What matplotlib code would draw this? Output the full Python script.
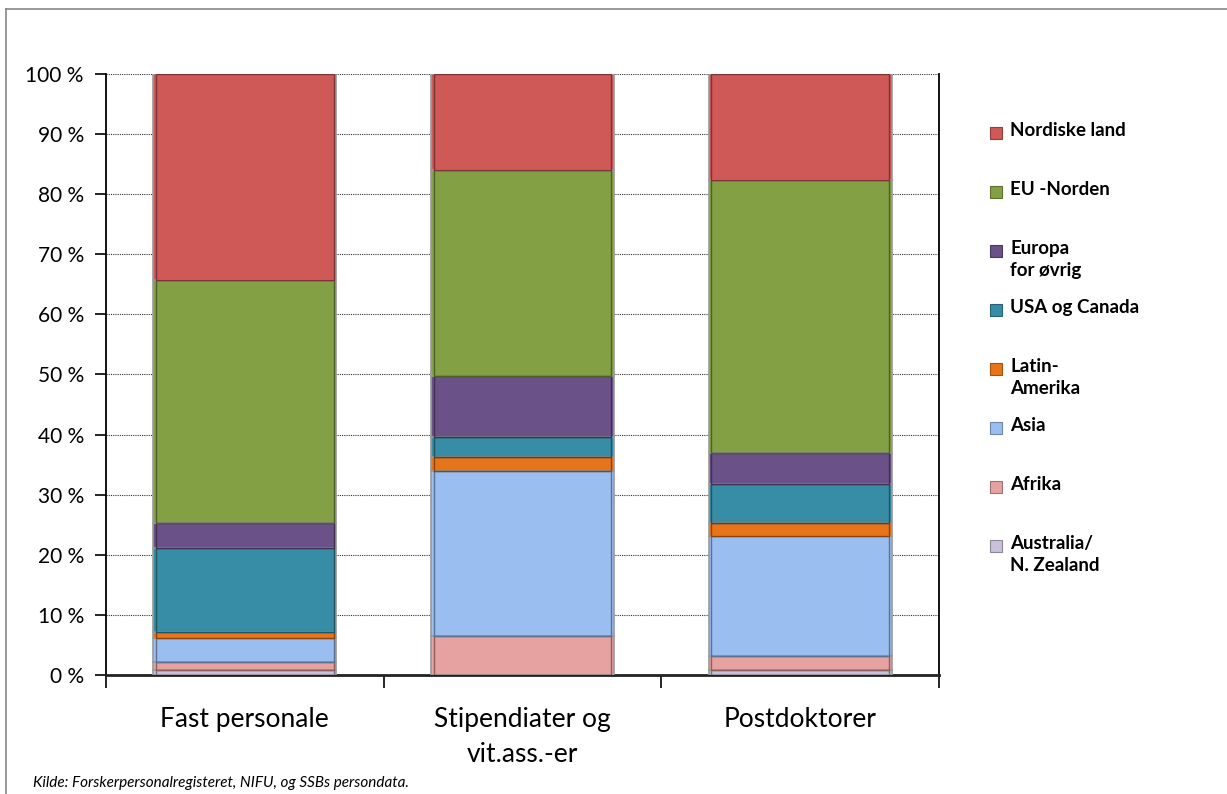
import matplotlib.pyplot as plt
import numpy as np
from matplotlib.colors import to_rgb
from matplotlib.lines import Line2D
from matplotlib.patches import Rectangle

categories = ['Fast personale', 'Stipendiater og\nvit.ass.-er', 'Postdoktorer']
series = ['Australia/\nN. Zealand', 'Afrika', 'Asia', 'Latin-\nAmerika',
          'USA og Canada', 'Europa\nfor øvrig', 'EU -Norden', 'Nordiske land']

# shares in percent, per category (bottom to top)
australia = [0.8, 0.0, 0.9]
afrika = [1.4, 6.5, 2.3]
asia = [3.9, 27.5, 20.0]
latin = [1.1, 2.3, 2.1]
usa = [13.9, 3.3, 6.5]
europa = [4.2, 10.1, 5.2]
eu_norden = [40.5, 34.4, 45.3]
nordiske = [34.2, 15.9, 17.7]

colors = ['#C9C1DA', '#E6A2A0', '#9BBEF0', '#E8741A',
          '#378CA6', '#6A5289', '#83A044', '#CF5956']

source = 'Kilde: Forskerpersonalregisteret, NIFU, og SSBs persondata.'

plt.rcParams['font.family'] = ['Lato', 'DejaVu Sans']

W, H = 1227, 794
fig = plt.figure(figsize=(W / 100, H / 100), dpi=100)
ax = fig.add_axes([106 / W, 1 - 675 / H, (939 - 106) / W, (675 - 74) / H])


def darker(c, f=0.6):
    r, g, b = to_rgb(c)
    return (r * f, g * f, b * f)


values = [australia, afrika, asia, latin, usa, europa, eu_norden, nordiske]
x = np.arange(len(categories))
bottom = np.zeros(len(categories))
for vals, col in zip(values, colors):
    vals = np.array(vals)
    ax.bar(x, vals, 0.66, bottom=bottom, color=col, edgecolor='#9a9a9a',
           linewidth=1.2, zorder=3)
    # bevel-ish inner rim
    ax.bar(x, vals, 0.64, bottom=bottom, color='none',
           edgecolor=darker(col), linewidth=1.0, zorder=4)
    bottom += vals

ax.set_xlim(-0.5, 2.5)
ax.set_ylim(0, 100)
ax.set_yticks(np.arange(0, 101, 10))
ax.set_yticklabels(['{} %'.format(v) for v in range(0, 101, 10)], fontsize=15)
ax.yaxis.grid(True, linestyle=(0, (1, 1)), color='#333333', linewidth=0.8, zorder=0)
ax.set_axisbelow(True)

ax.set_xticks(x)
ax.set_xticklabels(categories, fontsize=19, linespacing=1.5)
ax.set_xticks([-0.5, 0.5, 1.5, 2.5], minor=True)
ax.tick_params(axis='x', which='major', length=0, pad=23)
ax.tick_params(axis='x', which='minor', length=9, width=1.2, direction='out')
ax.tick_params(axis='y', length=8, width=1.2, direction='out', pad=8)

ax.spines['top'].set_visible(False)
for s in ['left', 'right', 'bottom']:
    ax.spines[s].set_linewidth(1.3)
    ax.spines[s].set_color('black')
ax.spines['bottom'].set_color('#222222')
ax.spines['bottom'].set_linewidth(2)

# legend, top entry first
for i, (name, col) in enumerate(zip(series[::-1], colors[::-1])):
    yc = 133 + i * 59
    fig.add_artist(Rectangle((990 / W, 1 - (yc + 6) / H), 12 / W, 12 / H,
                             transform=fig.transFigure, facecolor=col,
                             edgecolor=darker(col, 0.7), linewidth=0.8))
    fig.text(1010 / W, 1 - (yc - 11) / H, name, fontsize=13.5, fontweight='bold',
             va='top', ha='left', linespacing=1.35)

fig.text(33 / W, 1 - 783 / H, source, fontsize=11, style='italic', va='center')

# chart frame
fig.add_artist(Line2D([6 / W, 1], [1 - 9 / H, 1 - 9 / H], transform=fig.transFigure,
                      color='#888888', linewidth=1.2))
fig.add_artist(Line2D([6 / W, 6 / W], [0, 1 - 9 / H], transform=fig.transFigure,
                      color='#888888', linewidth=1.2))

fig.savefig('out.png', dpi=100)
